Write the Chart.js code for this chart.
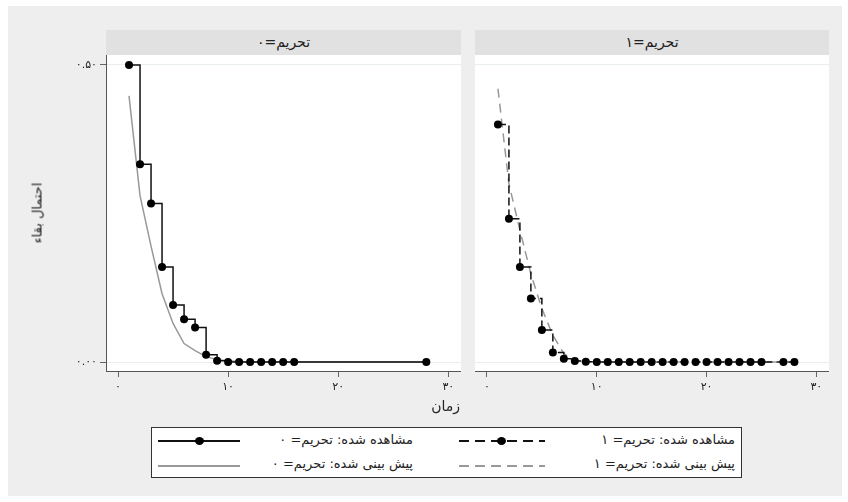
<!DOCTYPE html>
<html>
<head>
<meta charset="utf-8">
<script src="https://cdn.jsdelivr.net/npm/chart.js@4.4.0/dist/chart.umd.min.js"></script>
<style>
  body { margin: 0; background: #fff; font-family: "DejaVu Sans", sans-serif; color: #222; }
  .abs { position: absolute; }
  #bg { left: 8px; top: 6px; width: 834px; height: 490px; background: #eeeeee; }
  .strip { top: 30px; height: 25px; background: #e1e1e1; font-size: 14px; line-height: 24px; text-align: center; direction: rtl; }
  .txt { font-size: 13px; direction: rtl; white-space: nowrap; }
  #legend { left: 151px; top: 427px; width: 591px; height: 51px; border: 1px solid #333; background: #fff; box-sizing: border-box; }
  .key { height: 1.5px; }
  .dash-black { background: repeating-linear-gradient(90deg, #111 0 10px, transparent 10px 16px); }
  .dash-gray { background: repeating-linear-gradient(90deg, #999 0 10px, transparent 10px 16px); }
  .dot { width: 9px; height: 8px; border-radius: 50%; background: #000; }
</style>
</head>
<body>
<div id="bg" class="abs"></div>
<div class="abs strip" style="left:106px;width:355px;">تحریم=۰</div>
<div class="abs strip" style="left:475px;width:354px;">تحریم=۱</div>

<div class="abs" style="left:40px;top:55px;width:421px;height:351px;"><canvas id="c0" width="421" height="351"></canvas></div>
<div class="abs" style="left:475px;top:55px;width:354px;height:351px;"><canvas id="c1" width="354" height="351"></canvas></div>

<div class="abs txt" style="left:37px;top:213px;transform:translate(-50%,-50%) rotate(-90deg);">احتمال بقاء</div>
<div class="abs txt" style="right:388px;top:398px;font-size:14px;">زمان</div>

<div id="legend" class="abs"></div>
<div class="abs key" style="left:158px;top:440px;width:82px;background:#111;"></div>
<div class="abs dot" style="left:195px;top:437px;"></div>
<div class="abs txt" style="right:435px;top:432px;">مشاهده شده: تحریم= ۰</div>
<div class="abs key dash-black" style="left:459px;top:440px;width:86px;"></div>
<div class="abs dot" style="left:497px;top:437px;"></div>
<div class="abs txt" style="right:113px;top:432px;">مشاهده شده: تحریم= ۱</div>
<div class="abs key" style="left:158px;top:465px;width:82px;background:#999;"></div>
<div class="abs txt" style="right:435px;top:456px;">پیش بینی شده: تحریم= ۰</div>
<div class="abs key dash-gray" style="left:459px;top:465px;width:86px;"></div>
<div class="abs txt" style="right:113px;top:456px;">پیش بینی شده: تحریم= ۱</div>

<script>
// time points and survival estimates
const time0 = [1, 2, 3, 4, 5, 6, 7, 8, 9, 10, 11, 12, 13, 14, 15, 16, 28];
const observed0 = [0.5, 0.333, 0.267, 0.160, 0.096, 0.072, 0.058, 0.012, 0.002, 0, 0, 0, 0, 0, 0, 0, 0];
const predicted0 = [0.448, 0.28, 0.195, 0.115, 0.065, 0.031, 0.019, 0.009, 0.004, 0.002, 0.001, 0, 0, 0, 0, 0, 0];

const time1 = [1, 2, 3, 4, 5, 6, 7, 8, 9, 10, 11, 12, 13, 14, 15, 16, 17, 18, 19, 20, 21, 22, 23, 24, 25, 27, 28];
const observed1 = [0.400, 0.241, 0.160, 0.107, 0.054, 0.016, 0.0056, 0.0017, 0.0005, 0, 0, 0, 0, 0, 0, 0, 0, 0, 0, 0, 0, 0, 0, 0, 0, 0, 0];
const predicted1 = [0.46, 0.30, 0.222, 0.148, 0.09, 0.045, 0.014, 0.003, 0.001, 0, 0, 0, 0, 0, 0, 0, 0, 0, 0, 0, 0, 0, 0, 0, 0, 0, 0];

const xTickVals = [0, 10, 20, 30];
const xTickLabels = ["۰", "۱۰", "۲۰", "۳۰"];
const yTickVals = [0, 0.5];
const yTickLabels = ["۰.۰۰", "۰.۵۰"];

const font = { family: "DejaVu Sans", size: 11 };

const whiteArea = {
  id: "whiteArea",
  beforeDraw(chart) {
    const a = chart.chartArea, ctx = chart.ctx;
    ctx.save();
    ctx.fillStyle = "#fff";
    ctx.fillRect(a.left, a.top, a.right - a.left, a.bottom - a.top);
    ctx.restore();
  }
};

function pts(xs, ys) {
  return xs.map((x, i) => ({ x: x, y: ys[i] }));
}

// stop chart.js from reserving room for edge labels
function noPad(s) {
  s.paddingTop = 0;
  s.paddingBottom = 0;
  s.paddingLeft = 0;
  s.paddingRight = 0;
}

function makeChart(id, obs, pred, showY, dashed) {
  return new Chart(document.getElementById(id), {
    type: "line",
    data: {
      datasets: [
        {
          data: obs,
          borderColor: "#111",
          borderWidth: 1.5,
          borderDash: dashed ? [8, 4] : [],
          stepped: "before",
          pointRadius: 4,
          pointBackgroundColor: "#000",
          pointBorderWidth: 0
        },
        {
          data: pred,
          borderColor: "#999",
          borderWidth: 1.5,
          borderDash: dashed ? [9, 6] : [],
          pointRadius: 0
        }
      ]
    },
    options: {
      responsive: false,
      animation: false,
      layout: { padding: 0, autoPadding: false },
      plugins: { legend: { display: false }, tooltip: { enabled: false } },
      scales: {
        x: {
          type: "linear",
          min: -1.09,
          max: 31.15,
          afterBuildTicks: s => { s.ticks = xTickVals.map(v => ({ value: v })); },
          afterFit: s => { s.height = 35; noPad(s); },
          ticks: {
            font: font,
            color: "#222",
            padding: 4,
            maxRotation: 0,
            callback: v => xTickLabels[xTickVals.indexOf(v)]
          },
          grid: { drawOnChartArea: false, tickLength: 6, color: "#666" },
          border: { color: "#555", width: 1 }
        },
        y: {
          min: -0.01515,
          max: 0.5168,
          afterBuildTicks: s => { s.ticks = yTickVals.map(v => ({ value: v })); },
          afterFit: s => { s.width = showY ? 66 : 0; noPad(s); },
          ticks: {
            display: showY,
            font: font,
            color: "#222",
            padding: 3,
            callback: v => yTickLabels[yTickVals.indexOf(v)]
          },
          grid: { color: "#e8eef0", tickColor: "#666", tickLength: 6, drawTicks: showY },
          border: { display: showY, color: "#555", width: 1 }
        }
      }
    },
    plugins: [whiteArea]
  });
}

makeChart("c0", pts(time0, observed0), pts(time0, predicted0), true, false);
makeChart("c1", pts(time1, observed1), pts(time1, predicted1), false, true);
</script>
</body>
</html>
